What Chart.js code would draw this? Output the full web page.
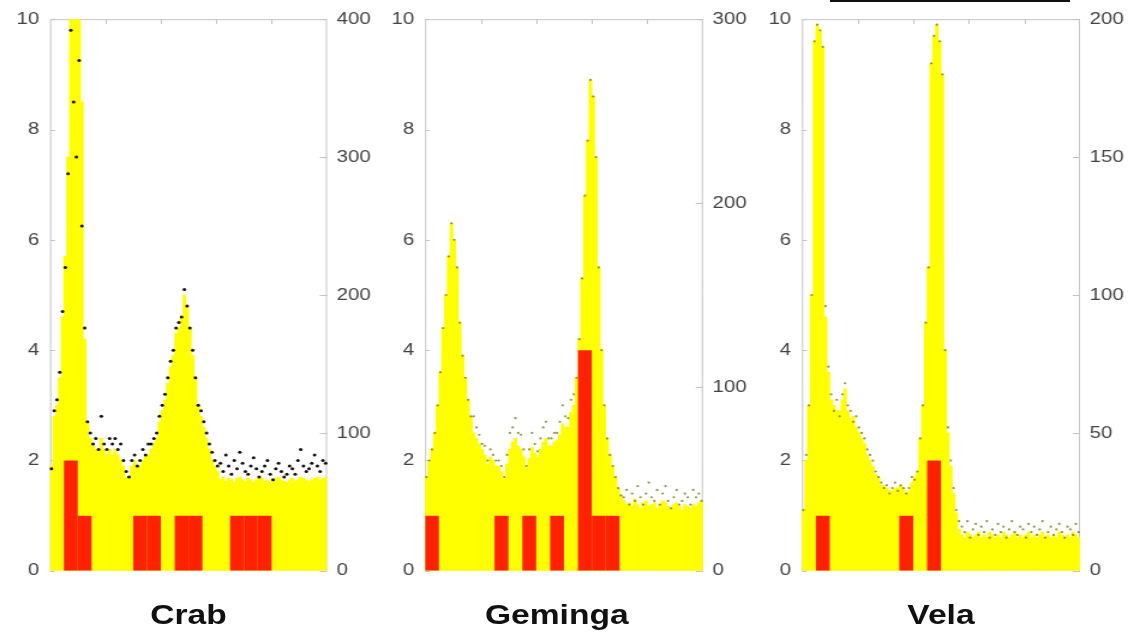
<!DOCTYPE html>
<html lang="en">
<head>
  <meta charset="UTF-8">
  <title>Pulsar light curves</title>
  <script src="https://cdn.jsdelivr.net/npm/chart.js"></script>
  <style>
    body {
      margin: 0;
      background: #fff;
      width: 1133px;
      height: 635px;
      overflow: hidden;
      position: relative;
      font-family: "Liberation Sans", Arial, sans-serif;
    }
    .panel {
      position: absolute;
      top: 0;
      height: 635px;
      transform: scaleX(1.2);
      transform-origin: 0 0;
    }
    .panel .plot {
      position: absolute;
      left: 0;
      top: 0;
      width: 100%;
      height: 590px;
    }
    .panel .name {
      position: absolute;
      top: 601px;
      font-size: 28px;
      line-height: 28px;
      font-weight: bold;
      color: #111;
      text-align: center;
    }
    .topline {
      position: absolute;
      left: 830px;
      top: 0;
      width: 240px;
      height: 2px;
      background: #111;
    }
  </style>
</head>
<body>
<div class="panel" id="crabPanel"><div class="plot"><canvas id="crabChart"></canvas></div><div class="name">Crab</div></div>
<div class="panel" id="gemPanel"><div class="plot"><canvas id="gemChart"></canvas></div><div class="name">Geminga</div></div>
<div class="panel" id="velaPanel"><div class="plot"><canvas id="velaChart"></canvas></div><div class="name">Vela</div></div>
<div class="topline"></div>

<script>
  // phase bins: 100 fine bins for the light curve, 20 coarse bins for the events
  const fineBins = Array.from({ length: 100 }, (_, i) => ((i + 0.5) / 100).toFixed(3));
  const coarseBins = Array.from({ length: 20 }, (_, i) => ((i + 0.5) / 20).toFixed(3));
  const phaseTicks = [0.2, 0.4, 0.6, 0.8];
  const leftTicks = [0, 2, 4, 6, 8, 10];

  const crabRightTicks = [0, 100, 200, 300, 400];
  const gemRightTicks = [0, 100, 200, 300];
  const velaRightTicks = [0, 50, 100, 150, 200];

  // Crab
  const crabCounts = [
    76, 112, 120, 140, 184, 228, 300, 408, 420, 416,
    404, 340, 168, 108, 96, 92, 88, 88, 96, 88,
    84, 88, 84, 88, 84, 80, 76, 68, 68, 76,
    80, 76, 76, 80, 84, 84, 88, 92, 96, 108,
    116, 124, 136, 148, 156, 172, 176, 184, 200, 192,
    176, 156, 140, 120, 112, 104, 96, 88, 80, 76,
    72, 66, 68, 65, 67, 66, 64, 67, 68, 66,
    65, 67, 66, 64, 66, 68, 67, 65, 66, 64,
    66, 67, 68, 66, 65, 64, 66, 67, 65, 66,
    68, 67, 66, 65, 66, 67, 68, 66, 67, 68
  ];
  const crabPoints = [
    74, 116, 124, 144, 188, 220, 288, 392, 340, 300,
    370, 250, 176, 108, 100, 92, 96, 88, 112, 92,
    88, 96, 92, 96, 88, 92, 80, 72, 68, 80,
    84, 76, 80, 88, 84, 92, 92, 96, 100, 112,
    120, 128, 140, 152, 160, 176, 180, 184, 204, 192,
    176, 160, 140, 120, 116, 108, 100, 92, 86, 80,
    76, 78, 72, 84, 76, 70, 80, 74, 86, 78,
    72, 70, 76, 82, 74, 68, 72, 76, 80, 70,
    66, 74, 78, 72, 68, 70, 76, 74, 70, 80,
    88, 76, 72, 74, 78, 84, 76, 72, 80, 78
  ];
  const crabEvents = [0, 2, 1, 0, 0, 0, 1, 1, 0, 1, 1, 0, 0, 1, 1, 1, 0, 0, 0, 0];

  // Geminga
  const gemCounts = [
    51, 60, 66, 75, 90, 108, 132, 150, 171, 189,
    180, 165, 135, 117, 105, 93, 84, 75, 72, 69,
    66, 63, 58, 62, 60, 57, 57, 54, 50, 58,
    66, 70, 72, 68, 66, 62, 56, 61, 67, 64,
    62, 66, 70, 72, 68, 68, 70, 71, 74, 80,
    78, 78, 86, 90, 105, 126, 159, 204, 234, 267,
    258, 225, 165, 120, 90, 72, 63, 57, 51, 45,
    41, 38, 36, 37, 35, 39, 36, 34, 37, 38,
    35, 36, 37, 34, 36, 38, 37, 35, 34, 36,
    37, 35, 33, 36, 35, 34, 36, 35, 37, 38
  ];
  const gemPoints = [
    51, 60, 66, 75, 90, 108, 132, 150, 171, 189,
    180, 165, 135, 117, 105, 93, 84, 84, 78, 74,
    69, 68, 60, 66, 63, 60, 60, 57, 51, 63,
    75, 78, 83, 75, 74, 66, 57, 66, 75, 69,
    65, 72, 78, 81, 72, 72, 75, 75, 81, 90,
    84, 83, 93, 96, 105, 126, 159, 204, 234, 267,
    258, 225, 165, 120, 90, 72, 63, 57, 51, 45,
    41, 40, 44, 36, 42, 38, 46, 40, 36, 42,
    48, 40, 38, 44, 36, 42, 46, 38, 34, 40,
    44, 36, 38, 42, 40, 36, 44, 40, 42, 38
  ];
  const gemEvents = [1, 0, 0, 0, 0, 1, 0, 1, 0, 1, 0, 4, 1, 1, 0, 0, 0, 0, 0, 0];

  // Vela
  const velaCounts = [
    22, 40, 60, 100, 192, 198, 196, 190, 92, 72,
    62, 60, 58, 58, 62, 66, 58, 55, 56, 52,
    50, 48, 46, 42, 40, 38, 35, 34, 31, 31,
    30, 29, 29, 30, 30, 31, 30, 28, 29, 32,
    34, 36, 48, 60, 90, 110, 184, 194, 198, 192,
    180, 80, 50, 38, 28, 21, 15, 13, 12, 14,
    13, 12, 13, 14, 12, 13, 12, 14, 13, 12,
    13, 12, 14, 13, 12, 13, 14, 12, 13, 12,
    13, 14, 12, 13, 12, 13, 14, 12, 13, 12,
    13, 12, 14, 13, 12, 13, 12, 14, 13, 12
  ];
  const velaPoints = [
    22, 42, 60, 100, 192, 198, 196, 190, 96, 74,
    64, 58, 62, 56, 64, 68, 60, 58, 54, 56,
    52, 50, 48, 44, 42, 40, 36, 34, 32, 30,
    31, 28, 30, 32, 29, 31, 30, 28, 30, 34,
    33, 36, 48, 60, 90, 110, 184, 194, 198, 192,
    180, 80, 52, 40, 30, 22, 18, 16, 14, 18,
    12, 15, 17, 13, 16, 14, 18, 12, 15, 13,
    17, 14, 16, 12, 15, 18, 14, 13, 16, 15,
    12, 17, 14, 16, 13, 15, 18, 12, 14, 16,
    13, 15, 17, 14, 12, 16, 15, 13, 17, 14
  ];
  const velaEvents = [0, 1, 0, 0, 0, 0, 0, 1, 0, 2, 0, 0, 0, 0, 0, 0, 0, 0, 0, 0];

  // thin grey box with inward ticks, drawn under the histograms
  const framePlugin = {
    id: 'frame',
    beforeDatasetsDraw(chart) {
      const ctx = chart.ctx;
      const a = chart.chartArea;
      const yl = chart.scales.yl, yr = chart.scales.yr, xp = chart.scales.xp;
      ctx.save();
      ctx.strokeStyle = '#c4c4c4';
      ctx.lineWidth = 1;
      ctx.beginPath();
      ctx.moveTo(a.left + 0.5, a.bottom);
      ctx.lineTo(a.left + 0.5, a.top + 0.5);
      ctx.lineTo(a.right - 0.5, a.top + 0.5);
      ctx.lineTo(a.right - 0.5, a.bottom);
      leftTicks.forEach(v => {
        const y = Math.round(yl.getPixelForValue(v)) + 0.5;
        ctx.moveTo(a.left, y);
        ctx.lineTo(a.left + 4, y);
      });
      yr.ticks.forEach(t => {
        const y = Math.round(yr.getPixelForValue(t.value)) + 0.5;
        ctx.moveTo(a.right - 6, y);
        ctx.lineTo(a.right, y);
      });
      phaseTicks.forEach(v => {
        const x = Math.round(xp.getPixelForValue(v)) + 0.5;
        ctx.moveTo(x, a.top);
        ctx.lineTo(x, a.top + 5);
      });
      ctx.stroke();
      ctx.restore();
    }
  };

  function drawPanel(panelId, canvasId, opts) {
    const panel = document.getElementById(panelId);
    panel.style.left = opts.left + 'px';
    panel.style.width = opts.width + 'px';

    const name = panel.querySelector('.name');
    name.style.left = (opts.leftW + opts.nameShift) + 'px';
    name.style.width = (opts.width - opts.leftW - opts.rightW) + 'px';

    const tickFont = { family: '"Liberation Sans", Arial, sans-serif', size: 17 };
    const rightTicks = opts.rightTicks;

    new Chart(document.getElementById(canvasId), {
      data: {
        labels: fineBins,
        datasets: [
          {
            type: 'bar',
            data: opts.events,
            xAxisID: 'xc',
            yAxisID: 'yl',
            backgroundColor: '#ff2200',
            borderWidth: 0,
            inflateAmount: 0,
            grouped: false,
            barPercentage: 1,
            categoryPercentage: 1,
            order: 1
          },
          {
            type: 'line',
            data: opts.points,
            xAxisID: 'xf',
            yAxisID: 'yr',
            showLine: false,
            pointRadius: opts.dotRadius,
            pointBorderWidth: 0,
            pointBackgroundColor: opts.dotColor,
            order: 2
          },
          {
            type: 'bar',
            data: opts.counts,
            xAxisID: 'xf',
            yAxisID: 'yr',
            backgroundColor: '#ffff00',
            borderWidth: 0,
            grouped: false,
            barPercentage: 1,
            categoryPercentage: 1,
            order: 3
          }
        ]
      },
      options: {
        responsive: true,
        maintainAspectRatio: false,
        animation: false,
        events: [],
        layout: {
          autoPadding: false,
          padding: { top: 16, bottom: 17, left: 0, right: 0 }
        },
        scales: {
          xf: { type: 'category', display: false, offset: true },
          xc: { type: 'category', labels: coarseBins, display: false, offset: true },
          xp: { type: 'linear', position: 'top', min: 0, max: 1, display: false },
          yl: {
            position: 'left',
            min: 0,
            max: 10,
            afterBuildTicks: s => { s.ticks = leftTicks.map(v => ({ value: v })); },
            afterFit: s => { s.width = opts.leftW; },
            grid: { display: false, drawTicks: false },
            border: { display: false },
            ticks: { padding: 9, color: '#444', font: tickFont }
          },
          yr: {
            position: 'right',
            min: 0,
            max: rightTicks[rightTicks.length - 1],
            afterBuildTicks: s => { s.ticks = rightTicks.map(v => ({ value: v })); },
            afterFit: s => { s.width = opts.rightW; },
            grid: { display: false, drawTicks: false },
            border: { display: false },
            ticks: { padding: 8, color: '#444', font: tickFont }
          }
        },
        plugins: {
          legend: { display: false },
          tooltip: { enabled: false }
        }
      },
      plugins: [framePlugin]
    });
  }

  drawPanel('crabPanel', 'crabChart', {
    left: 0, width: 315, leftW: 41.7, rightW: 42.5, nameShift: 0,
    counts: crabCounts, points: crabPoints, events: crabEvents,
    rightTicks: crabRightTicks, dotColor: '#111', dotRadius: 1.5
  });
  drawPanel('gemPanel', 'gemChart', {
    left: 378, width: 315, leftW: 39.2, rightW: 44.2, nameShift: -6,
    counts: gemCounts, points: gemPoints, events: gemEvents,
    rightTicks: gemRightTicks, dotColor: 'rgba(110,110,20,0.75)', dotRadius: 1.1
  });
  drawPanel('velaPanel', 'velaChart', {
    left: 756, width: 314, leftW: 38.3, rightW: 44, nameShift: 0,
    counts: velaCounts, points: velaPoints, events: velaEvents,
    rightTicks: velaRightTicks, dotColor: 'rgba(110,110,20,0.75)', dotRadius: 1.1
  });
</script>
</body>
</html>
